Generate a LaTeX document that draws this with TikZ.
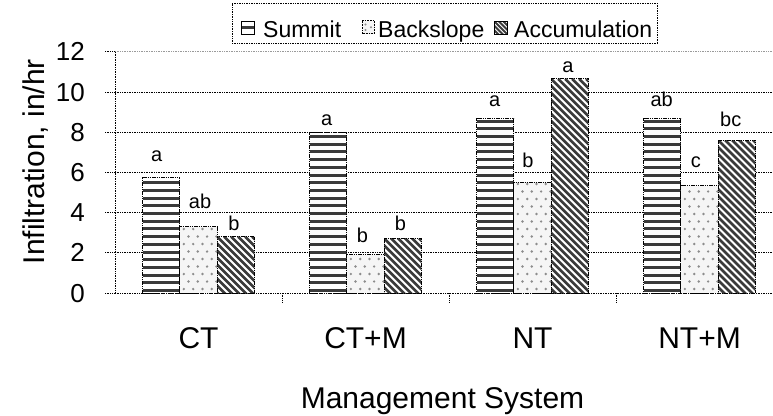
\documentclass[tikz,border=0pt]{standalone}
\usepackage{fontspec}
\setmainfont{Liberation Sans}
\definecolor{stripe}{HTML}{3A3A3A}
\definecolor{dotc}{HTML}{8C8C8C}
\definecolor{dotbg}{HTML}{F5F5F5}
\definecolor{gridgray}{HTML}{9A9A9A}
\begin{document}
\begin{tikzpicture}[x=1pt,y=-1pt,
  dotline/.style={line width=1pt, dash pattern=on 1pt off 0.7pt},
  bar/.style={rectangle, inner sep=0pt, outer sep=0pt, anchor=south,
    minimum width=37.3pt, draw=black, line width=0.9pt, dash pattern=on 1.2pt off 0.6pt},
  summit/.style={bar, fill=white, path picture={
    \foreach \k in {0,...,40}{\fill[stripe] ([yshift={1pt+\k*7.7pt}]path picture bounding box.south west) rectangle ++(60pt,3pt);}}},
  backslope/.style={bar, fill=dotbg, path picture={
    \foreach \r [evaluate=\r as \off using {mod(\r,2)*4.65}] in {0,...,30}{
      \foreach \c in {0,...,5}{\fill[dotc] ([xshift={4pt+\off pt+\c*9.3pt}, yshift={4pt+\r*7.5pt}]path picture bounding box.south west) circle (1.35pt);}}}},
  accum/.style={bar, fill=white, path picture={
    \foreach \k in {-34,...,8}{\draw[stripe, line width=2.6pt, solid] ([xshift={\k*7pt}]path picture bounding box.north west) -- ++(300pt,-300pt);}}},
  iconS/.style={rectangle, inner sep=0pt, minimum width=13pt, minimum height=13pt, draw=black, line width=0.8pt, fill=white,
    path picture={\fill[stripe] ([yshift=-1.6pt]path picture bounding box.west) rectangle ++(20pt,3.2pt);}},
  iconB/.style={rectangle, inner sep=0pt, minimum width=12pt, minimum height=13pt, draw=black, line width=0.7pt, dash pattern=on 1pt off 0.6pt, fill=dotbg,
    path picture={\fill[dotc] ([xshift=3pt,yshift=3.5pt]path picture bounding box.south west) circle (1.1pt);
                  \fill[dotc] ([xshift=3pt,yshift=9pt]path picture bounding box.south west) circle (1.1pt);
                  \fill[dotc] ([xshift=8.5pt,yshift=6.2pt]path picture bounding box.south west) circle (1.1pt);}},
  iconA/.style={rectangle, inner sep=0pt, minimum width=13pt, minimum height=13pt, draw=black, line width=0.8pt, fill=white,
    path picture={\foreach \k in {-3,...,2}{\draw[stripe, line width=2pt] ([xshift={\k*4.5pt}]path picture bounding box.north west) -- ++(30pt,-30pt);}}},
  dlab/.style={anchor=base, inner sep=0pt, font=\fontsize{20}{24}\selectfont},
  tlab/.style={anchor=base east, inner sep=0pt, font=\fontsize{26}{30}\selectfont},
  clab/.style={anchor=base, inner sep=0pt, font=\fontsize{30}{36}\selectfont},
  leg/.style={anchor=base west, inner sep=0pt, font=\fontsize{23}{27}\selectfont}
]
\useasboundingbox (0,0) rectangle (773,415);

% grid lines
\draw[dotline, gridgray] (115,51.8) -- (773,51.8);
\foreach \v in {2,4,6,8,10}{\draw[dotline] (115,{293-20.1*\v}) -- (773,{293-20.1*\v});}

% axes
\coordinate (ytop) at (115,51.8);
\coordinate (origin) at (115,293);
\coordinate (xend) at (773,293);
\draw[dotline] (ytop) -- (origin);
\draw[dotline] (origin) -- (xend);
\foreach \v in {0,2,...,12}{
  \draw[dotline] (105,{293-20.1*\v}) -- (115,{293-20.1*\v});
  \node[tlab] at (85,{302-20.1*\v}) {\v};
}
\foreach \x in {282.7,449.5,616.5}{\draw[dotline] (\x,293) -- (\x,303);}

% bars CT
\node[summit, minimum height={5.75*20.1pt}] (ctS) at (161.2,293) {};
\node[backslope, minimum height={3.3*20.1pt}] (ctB) at (198.5,293) {};
\node[accum, minimum height={2.8*20.1pt}] (ctA) at (235.8,293) {};
% CT+M
\node[summit, minimum height={7.97*20.1pt}] (ctmS) at (328.2,293) {};
\node[backslope, minimum height={1.9*20.1pt}] (ctmB) at (365.5,293) {};
\node[accum, minimum height={2.72*20.1pt}] (ctmA) at (402.8,293) {};
% NT
\node[summit, minimum height={8.67*20.1pt}] (ntS) at (495.2,293) {};
\node[backslope, minimum height={5.5*20.1pt}] (ntB) at (532.5,293) {};
\node[accum, minimum height={10.65*20.1pt}] (ntA) at (569.8,293) {};
% NT+M
\node[summit, minimum height={8.67*20.1pt}] (ntmS) at (662.2,293) {};
\node[backslope, minimum height={5.34*20.1pt}] (ntmB) at (699.5,293) {};
\node[accum, minimum height={7.6*20.1pt}] (ntmA) at (736.8,293) {};

% data labels
\node[dlab] (l1) at (156.7,161.5) {a};
\node[dlab] (l2) at (200,208.3) {ab};
\node[dlab] (l3) at (234,230) {b};
\node[dlab] (l4) at (326.7,125.7) {a};
\node[dlab] (l5) at (362.5,242.3) {b};
\node[dlab] (l6) at (400.5,230.7) {b};
\node[dlab] (l7) at (494.7,106) {a};
\node[dlab] (l8) at (528,167.3) {b};
\node[dlab] (l9) at (568,72.3) {a};
\node[dlab] (l10) at (661.7,106) {ab};
\node[dlab] (l11) at (695.8,167.3) {c};
\node[dlab] (l12) at (730.8,126.7) {bc};

% category labels
\node[clab] (cCT) at (198.5,348.3) {CT};
\node[clab] (cCTM) at (365.5,348.3) {CT+M};
\node[clab] (cNT) at (532.5,348.3) {NT};
\node[clab] (cNTM) at (699.5,348.3) {NT+M};

% axis titles
\node[clab] (xtitle) at (442.5,408.3) {Management System};
\node[clab, rotate=90] (ytitle) at (44,161.7) {Infiltration, in/hr};

% legend
\node[draw, dotline, fill=white, minimum width=425pt, minimum height=40pt, inner sep=0pt] (legend) at (444.5,23) {};
\node[iconS] (iS) at (248,27.5) {};
\node[iconB] (iB) at (368.5,27) {};
\node[iconA] (iA) at (500.5,27.5) {};
\node[leg] (tS) at (263,37.3) {Summit};
\node[leg] (tB) at (378,37.3) {Backslope};
\node[leg] (tA) at (514,37.3) {Accumulation};
\end{tikzpicture}
\end{document}
